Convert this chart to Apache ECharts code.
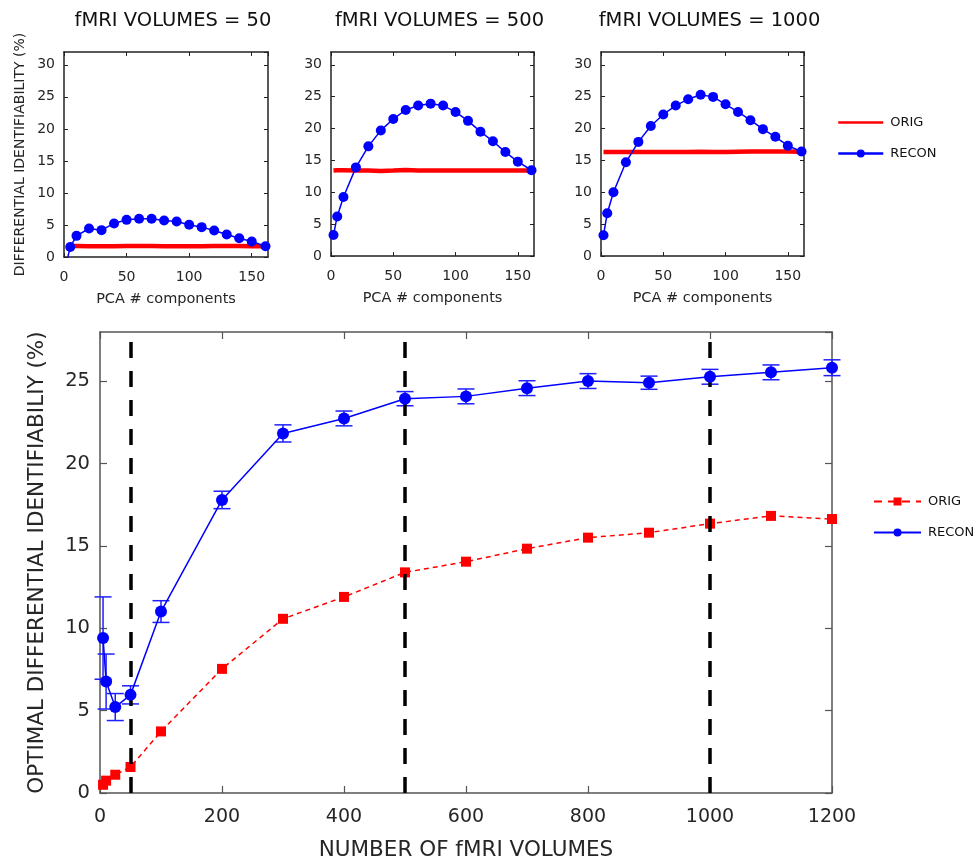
<!DOCTYPE html>
<html>
<head>
<meta charset="utf-8">
<script src="https://cdn.jsdelivr.net/npm/echarts@6/dist/echarts.min.js"></script>
<style>html,body{margin:0;padding:0;background:#fff}#c{width:977px;height:860px}</style>
</head>
<body>
<div id="c"></div>
<script>
// ---- data ----
const panelTitles = ['fMRI VOLUMES = 50', 'fMRI VOLUMES = 500', 'fMRI VOLUMES = 1000'];
const pcaComponents = [2, 5, 10, 20, 30, 40, 50, 60, 70, 80, 90, 100, 110, 120, 130, 140, 150, 161];
const recon50 = [-0.9, 1.57, 3.3, 4.45, 4.19, 5.24, 5.8, 5.97, 5.97, 5.7, 5.55, 5.03, 4.66, 4.14, 3.5, 2.93, 2.41, 1.68];
const orig50 = [1.7, 1.7, 1.7, 1.68, 1.66, 1.68, 1.7, 1.7, 1.7, 1.69, 1.68, 1.68, 1.69, 1.7, 1.7, 1.7, 1.69, 1.68];
const recon500 = [3.3, 6.2, 9.25, 13.9, 17.2, 19.7, 21.5, 22.9, 23.6, 23.9, 23.6, 22.6, 21.2, 19.5, 18.0, 16.3, 14.8, 13.45];
const orig500 = [13.4, 13.45, 13.45, 13.4, 13.4, 13.35, 13.4, 13.5, 13.4, 13.4, 13.4, 13.4, 13.4, 13.4, 13.4, 13.4, 13.4, 13.4];
const recon1000 = [3.26, 6.7, 10.0, 14.7, 17.9, 20.4, 22.2, 23.6, 24.6, 25.3, 24.96, 23.8, 22.6, 21.3, 19.9, 18.7, 17.3, 16.4];
const orig1000 = [16.3, 16.3, 16.3, 16.3, 16.3, 16.3, 16.3, 16.3, 16.3, 16.35, 16.3, 16.3, 16.35, 16.4, 16.4, 16.4, 16.4, 16.35];

const volumes = [5, 10, 25, 50, 100, 200, 300, 400, 500, 600, 700, 800, 900, 1000, 1100, 1200];
const origOptimal = [0.5, 0.75, 1.11, 1.58, 3.74, 7.54, 10.58, 11.91, 13.4, 14.05, 14.84, 15.51, 15.81, 16.36, 16.83, 16.64];
const reconOptimal = [9.41, 6.77, 5.22, 5.96, 11.02, 17.8, 21.84, 22.75, 23.95, 24.09, 24.59, 25.02, 24.92, 25.28, 25.55, 25.83];
const reconError = [2.5, 1.67, 0.82, 0.55, 0.66, 0.53, 0.52, 0.45, 0.43, 0.45, 0.45, 0.45, 0.4, 0.45, 0.45, 0.48];
const highlightedVolumes = [50, 500, 1000];

// ---- layout / style ----
const FONT = 'DejaVu Sans';
const TXT = '#262626';
const topGrids = [
  {left: 64, top: 52, width: 204, height: 205, outerBoundsMode: 'none'},
  {left: 331, top: 52, width: 203, height: 204, outerBoundsMode: 'none'},
  {left: 601, top: 52, width: 203, height: 204, outerBoundsMode: 'none'}
];
const bottomGrid = {left: 100, top: 332, width: 732, height: 461, outerBoundsMode: 'none'};
const reconTop = [recon50, recon500, recon1000];
const origTop = [orig50, orig500, orig1000];
const plain = v => String(v);

const grids = topGrids.concat([bottomGrid]);
const xAxes = [], yAxes = [], series = [], titles = [];

topGrids.forEach((g, i) => {
  const axLine = {show: true, onZero: false, lineStyle: {color: '#222', width: 1.5}};
  const tick = {inside: true, length: 4, lineStyle: {color: '#222'}};
  xAxes.push({type: 'value', gridIndex: i, min: 0, max: 163, interval: 50,
    axisLine: axLine, axisTick: tick,
    axisLabel: {fontFamily: FONT, fontSize: 14, color: TXT, margin: 13, showMaxLabel: false, formatter: plain},
    splitLine: {show: false},
    name: 'PCA # components', nameLocation: 'middle', nameGap: 35,
    nameTextStyle: {fontFamily: FONT, fontSize: 14.5, color: TXT}});
  xAxes.push({type: 'value', gridIndex: i, position: 'top', min: 0, max: 163, interval: 50,
    axisLine: axLine, axisTick: tick, axisLabel: {show: false}, splitLine: {show: false}});
  const yA = {type: 'value', gridIndex: i, min: 0, max: 32, interval: 5,
    axisLine: axLine, axisTick: tick,
    axisLabel: {fontFamily: FONT, fontSize: 14, color: TXT, margin: 9, showMaxLabel: false},
    splitLine: {show: false}};
  if (i === 0) {
    yA.name = 'DIFFERENTIAL IDENTIFIABILITY (%)';
    yA.nameLocation = 'middle';
    yA.nameGap = 37;
    yA.nameTextStyle = {fontFamily: FONT, fontSize: 14, color: TXT};
  }
  yAxes.push(yA);
  yAxes.push({type: 'value', gridIndex: i, position: 'right', min: 0, max: 32, interval: 5,
    axisLine: axLine, axisTick: tick, axisLabel: {show: false}, splitLine: {show: false}});
  titles.push({text: panelTitles[i], left: g.left + g.width / 2 + 2, top: 6, textAlign: 'center',
    textStyle: {fontFamily: FONT, fontSize: 19.5, fontWeight: 'normal', color: '#111'}});
  series.push({name: 'ORIG', type: 'line', xAxisIndex: 2 * i, yAxisIndex: 2 * i,
    data: pcaComponents.map((x, k) => [x, origTop[i][k]]), showSymbol: false, symbol: 'none',
    lineStyle: {color: '#ff0000', width: 4.5}, itemStyle: {color: '#ff0000'}, z: 2, silent: true});
  series.push({name: 'RECON', type: 'line', xAxisIndex: 2 * i, yAxisIndex: 2 * i,
    data: pcaComponents.map((x, k) => [x, reconTop[i][k]]), symbol: 'circle', symbolSize: 10,
    clip: true, lineStyle: {color: '#0000ff', width: 1.5}, itemStyle: {color: '#0000ff'}, z: 3, silent: true});
});

// bottom chart axes
const bAxLine = {show: true, onZero: false, lineStyle: {color: '#555', width: 1.5}};
const bTick = {inside: true, length: 7, lineStyle: {color: '#555', width: 1.2}};
xAxes.push({type: 'value', gridIndex: 3, min: 0, max: 1200, interval: 200,
  axisLine: bAxLine, axisTick: bTick,
  axisLabel: {fontFamily: FONT, fontSize: 19, color: TXT, margin: 15, formatter: plain},
  splitLine: {show: false},
  name: 'NUMBER OF fMRI VOLUMES', nameLocation: 'middle', nameGap: 46,
  nameTextStyle: {fontFamily: FONT, fontSize: 21.5, color: TXT}});
xAxes.push({type: 'value', gridIndex: 3, position: 'top', min: 0, max: 1200, interval: 200,
  axisLine: bAxLine, axisTick: bTick, axisLabel: {show: false}, splitLine: {show: false}});
yAxes.push({type: 'value', gridIndex: 3, min: 0, max: 28, interval: 5,
  axisLine: bAxLine, axisTick: bTick,
  axisLabel: {fontFamily: FONT, fontSize: 19.5, color: TXT, margin: 10, showMaxLabel: false},
  splitLine: {show: false},
  name: 'OPTIMAL DIFFERENTIAL IDENTIFIABILIY (%)', nameLocation: 'middle', nameGap: 52,
  nameTextStyle: {fontFamily: FONT, fontSize: 21.5, color: TXT}});
yAxes.push({type: 'value', gridIndex: 3, position: 'right', min: 0, max: 28, interval: 5,
  axisLine: bAxLine, axisTick: bTick, axisLabel: {show: false}, splitLine: {show: false}});

const bx = 6, by = 6;
series.push({name: 'ORIG_b', type: 'line', xAxisIndex: bx, yAxisIndex: by,
  data: volumes.map((v, k) => [v, origOptimal[k]]), symbol: 'rect', symbolSize: 10,
  lineStyle: {color: '#ff0000', width: 1.5, type: [5, 4]}, itemStyle: {color: '#ff0000'}, z: 3, silent: true});
series.push({name: 'RECON_err', type: 'custom', xAxisIndex: bx, yAxisIndex: by,
  data: volumes.map((v, k) => [v, reconOptimal[k] - reconError[k], reconOptimal[k] + reconError[k]]),
  encode: {x: 0, y: [1, 2]}, z: 4, silent: true,
  renderItem: function (params, api) {
    const x = api.value(0);
    const lo = api.coord([x, api.value(1)]);
    const hi = api.coord([x, api.value(2)]);
    const hw = 8.5;
    const st = {stroke: '#1e1eff', lineWidth: 1.5};
    return {type: 'group', children: [
      {type: 'line', shape: {x1: lo[0], y1: lo[1], x2: hi[0], y2: hi[1]}, style: st},
      {type: 'line', shape: {x1: lo[0] - hw, y1: lo[1], x2: lo[0] + hw, y2: lo[1]}, style: st},
      {type: 'line', shape: {x1: hi[0] - hw, y1: hi[1], x2: hi[0] + hw, y2: hi[1]}, style: st}
    ]};
  }});
series.push({name: 'RECON_b', type: 'line', xAxisIndex: bx, yAxisIndex: by,
  data: volumes.map((v, k) => [v, reconOptimal[k]]), symbol: 'circle', symbolSize: 12,
  lineStyle: {color: '#0000ff', width: 1.5}, itemStyle: {color: '#0000ff'}, z: 5, silent: true});
series.push({name: 'marks', type: 'line', xAxisIndex: bx, yAxisIndex: by, data: [], z: 10, silent: true,
  markLine: {silent: true, symbol: ['none', 'none'], label: {show: false},
    lineStyle: {color: '#000', width: 3.5, type: [16, 13]},
    data: highlightedVolumes.map(v => ({xAxis: v}))}});

const option = {
  animation: false,
  backgroundColor: '#fff',
  title: titles,
  grid: grids,
  xAxis: xAxes,
  yAxis: yAxes,
  legend: [
    {data: [{name: 'ORIG', itemStyle: {opacity: 0}}, 'RECON'], orient: 'vertical', left: 832, top: 111,
      itemWidth: 45, itemHeight: 10, itemGap: 18,
      textStyle: {fontFamily: FONT, fontSize: 13, color: '#111', padding: [0, 0, 0, 2]}, selectedMode: false,
      lineStyle: {width: 2.5}},
    {data: [{name: 'ORIG_b', lineStyle: {type: [8, 6]}}, 'RECON_b'], orient: 'vertical', left: 868, top: 490,
      itemWidth: 47, itemHeight: 10, itemGap: 18,
      formatter: n => n.replace('_b', ''),
      textStyle: {fontFamily: FONT, fontSize: 13, color: '#111', padding: [0, 0, 0, 2]}, selectedMode: false}
  ],
  series: series
};
echarts.init(document.getElementById('c'), null, {renderer: 'canvas'}).setOption(option);
</script>
</body>
</html>
